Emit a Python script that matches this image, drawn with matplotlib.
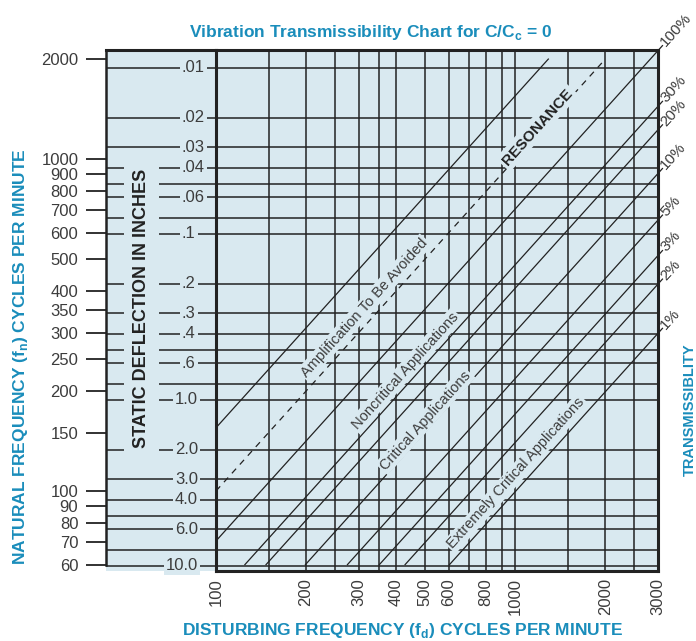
import numpy as np
import matplotlib
matplotlib.use("Agg")
import matplotlib.pyplot as plt
from matplotlib.ticker import NullLocator

plt.rcParams['font.family'] = ['Liberation Sans', 'DejaVu Sans']
plt.rcParams['mathtext.fontset'] = 'custom'
plt.rcParams['mathtext.rm'] = 'Liberation Sans'
plt.rcParams['mathtext.bf'] = 'Liberation Sans:bold'

# colours
BG = '#d9e9f0'
INK = '#222222'
TXT = '#3c3c3c'
BLUE = '#1a8dbb'

# data
fn_ticks = [2000, 1000, 900, 800, 700, 600, 500, 400, 350, 300, 250, 200, 150, 100, 90, 80, 70, 60]
fd_ticks = [100, 200, 300, 400, 500, 600, 800, 1000, 2000, 3000]
fd_grid = [150, 200, 250, 300, 350, 400, 500, 600, 700, 800, 900, 1000, 1500, 2000, 2500]

defl_labeled = [0.01, 0.02, 0.03, 0.04, 0.06, 0.1, 0.2, 0.3, 0.4, 0.6, 1.0, 2.0, 3.0, 4.0, 6.0, 10.0]
defl_text = ['.01', '.02', '.03', '.04', '.06', '.1', '.2', '.3', '.4', '.6',
             '1.0', '2.0', '3.0', '4.0', '6.0', '10.0']
defl_unlabeled = [0.05, 0.08, 0.5, 0.8, 5.0, 8.0]

trans_pct = [100, 30, 20, 10, 5, 3, 2, 1]
amp_ratio = 0.645        # fd/fn of the solid line left of resonance
fn_low, fn_high = 60, 2000

# region labels: (text, fd, fn) centre points
region_labels = [
    ('Amplification To Be Avoided', 313, 356),
    ('Noncritical Applications', 429, 230),
    ('Critical Applications', 500, 163),
    ('Extremely Critical Applications', 1008, 113),
]


def defl_to_fn(d):
    # static deflection (in) -> natural frequency (cpm)
    return 188.0 / np.sqrt(d)


W, H = 696, 641
fig = plt.figure(figsize=(W / 100, H / 100), dpi=100)

top_px, bot_px = 50, 571
ylim = (57.4, 2130)

# left panel: natural frequency scale + static deflection labels
axL = fig.add_axes([106 / W, 1 - bot_px / H, 110 / W, (bot_px - top_px) / H])
axL.set_facecolor(BG)
axL.set_yscale('log')
axL.set_ylim(*ylim)
axL.set_xlim(0, 1)
axL.set_xticks([])
axL.set_yticks(fn_ticks, labels=[str(v) for v in fn_ticks])
axL.yaxis.set_minor_locator(NullLocator())
axL.tick_params(axis='y', direction='out', length=14.4, width=1.3, color=INK,
                pad=5.5, labelsize=12, labelcolor=TXT)
for s in ['right', 'bottom']:
    axL.spines[s].set_visible(False)
axL.spines['left'].set_linewidth(1.8)
axL.spines['left'].set_color(INK)
axL.spines['left'].set_bounds(fn_low, ylim[1])
axL.spines['top'].set_linewidth(2.2)
axL.spines['top'].set_color(INK)

ytr = axL.get_yaxis_transform()
for d in defl_labeled + defl_unlabeled:
    axL.axhline(defl_to_fn(d), color=INK, lw=1.1, zorder=1)
for d, t in zip(defl_labeled, defl_text):
    if t.startswith('.'):
        axL.text(0.69, defl_to_fn(d), t, transform=ytr, ha='left', va='center',
                 fontsize=12, color=TXT, zorder=3,
                 bbox=dict(boxstyle='square,pad=0.12', fc=BG, ec='none'))
    else:
        axL.text(0.836, defl_to_fn(d), t, transform=ytr, ha='right', va='center',
                 fontsize=12, color=TXT, zorder=3,
                 bbox=dict(boxstyle='square,pad=0.12', fc=BG, ec='none'))

axL.text(0.32, 0.505, 'STATIC DEFLECTION IN INCHES', transform=axL.transAxes,
         rotation=90, ha='center', va='center', fontsize=13, fontweight='bold',
         color=INK, zorder=4,
         bbox=dict(boxstyle='square,pad=0.5', fc=BG, ec='none'))

# main chart
ax = fig.add_axes([216 / W, 1 - bot_px / H, 442 / W, (bot_px - top_px) / H])
ax.set_facecolor(BG)
ax.set_xscale('log')
ax.set_yscale('log')
ax.set_xlim(100, 3000)
ax.set_ylim(*ylim)
ax.set_xticks(fd_ticks, labels=[str(v) for v in fd_ticks])
ax.xaxis.set_minor_locator(NullLocator())
ax.set_yticks([])
ax.yaxis.set_minor_locator(NullLocator())
ax.tick_params(axis='x', length=0, pad=5, labelsize=12, labelcolor=TXT,
               labelrotation=90)
for s in ax.spines.values():
    s.set_linewidth(2.2)
    s.set_color(INK)

for v in fd_grid:
    ax.axvline(v, color=INK, lw=1.1, zorder=1)
for d in defl_labeled + defl_unlabeled:
    ax.axhline(defl_to_fn(d), color=INK, lw=1.1, zorder=1)

# angle of a constant-ratio line on screen
p = ax.transData.transform([(100, 100), (1000, 1000)])
ang = np.degrees(np.arctan2(p[1, 1] - p[0, 1], p[1, 0] - p[0, 0]))

# amplification boundary (solid) and resonance (dashed)
fd_amp = np.array([100, fn_high * amp_ratio])
ax.plot(fd_amp, fd_amp / amp_ratio, color=INK, lw=0.9, zorder=2)
fd_res = np.array([100, fn_high])
ax.plot(fd_res, fd_res, color=INK, lw=0.9, ls=(0, (5, 4.5)), zorder=2)

# transmissibility lines (undamped): T = 1/(r^2 - 1)
leader = 1.035
for t in trans_pct:
    r = np.sqrt(1 + 100.0 / t)
    fd = np.array([max(100, fn_low * r), 3000 * leader])
    ax.plot(fd, fd / r, color=INK, lw=0.9, clip_on=False, zorder=2)
    ax.text(3000 * leader * 1.006, 3000 * leader * 1.006 / r, f'{t}%',
            rotation=ang, rotation_mode='anchor', ha='left', va='center',
            fontsize=11, color=TXT)

for txt, x, y in region_labels:
    ax.text(x, y, txt, rotation=ang, rotation_mode='anchor', ha='center',
            va='center', fontsize=10.5, color=TXT, zorder=4,
            bbox=dict(boxstyle='square,pad=0.12', fc=BG, ec='none'))

ax.text(1185, 1250, 'RESONANCE', rotation=ang, rotation_mode='anchor',
        ha='center', va='center', fontsize=11, fontweight='bold', color=INK,
        zorder=4, bbox=dict(boxstyle='square,pad=0.2', fc=BG, ec='none'))

# titles and axis labels
fig.text(371 / W, 1 - 33 / H, r'Vibration Transmissibility Chart for C/C$_\mathbf{c}$ = 0',
         ha='center', va='center', fontsize=12.5, fontweight='bold', color=BLUE)
fig.text(21 / W, 1 - 357 / H, r'NATURAL FREQUENCY (f$_\mathbf{n}$) CYCLES PER MINUTE',
         rotation=90, ha='center', va='center', fontsize=12.5, fontweight='bold',
         color=BLUE)
fig.text(402 / W, 1 - 631 / H, r'DISTURBING FREQUENCY (f$_\mathbf{d}$) CYCLES PER MINUTE',
         ha='center', va='center', fontsize=12.5, fontweight='bold', color=BLUE)
fig.text(690 / W, 1 - 410 / H, 'TRANSMISSIBLITY', rotation=90, ha='center',
         va='center', fontsize=10.5, fontweight='bold', color=BLUE)

fig.savefig('out.png', dpi=100)
